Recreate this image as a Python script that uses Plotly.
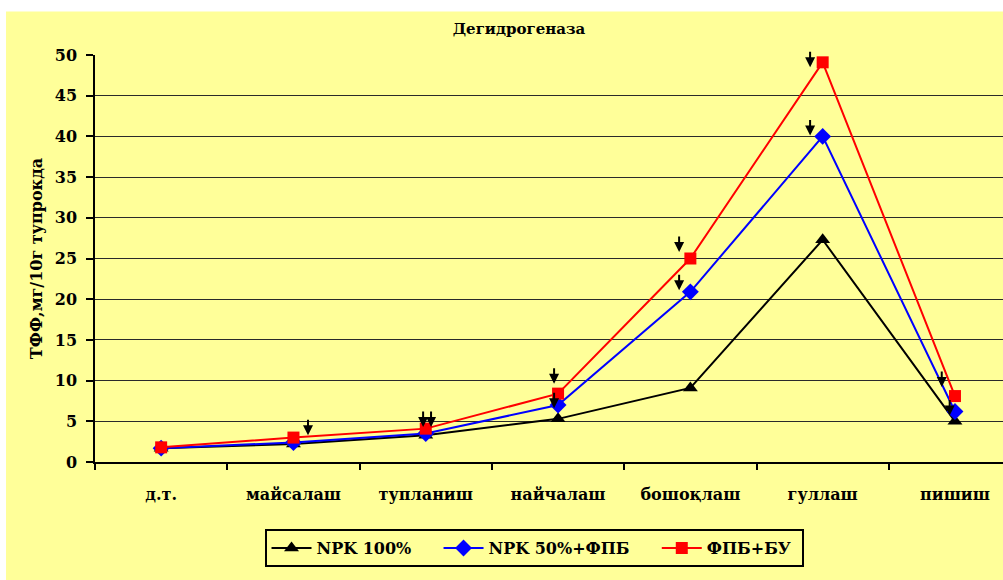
import plotly.graph_objects as go

categories = ["д.т.", "майсалаш", "тупланиш", "найчалаш", "бошоқлаш", "гуллаш", "пишиш"]
npk100 = [1.7, 2.2, 3.3, 5.3, 9.1, 27.3, 5.0]
npk50_fpb = [1.7, 2.4, 3.5, 7.0, 20.9, 40.0, 6.2]
fpb_bu = [1.8, 3.0, 4.1, 8.4, 25.0, 49.1, 8.1]
series_names = ["NPK 100%", "NPK 50%+ФПБ", "ФПБ+БУ"]

# arrows: category index, arrow tip value, small horizontal offset (category units)
arrow_cat = [1, 2, 2, 3, 3, 4, 4, 5, 5, 6, 6]
arrow_tip = [3.3, 4.3, 4.3, 9.6, 6.6, 25.8, 21.1, 48.5, 40.1, 9.2, 5.7]
arrow_dx = [0.11, -0.02, 0.04, -0.03, -0.03, -0.085, -0.085, -0.095, -0.095, -0.10, -0.04]

y_ticks = list(range(0, 51, 5))

FONT = "DejaVu Serif"
YEL = "#FFFF99"
PAD = "\u00a0" * 4

fig = go.Figure()
styles = [
    (npk100, "black", "triangle-up", 13),
    (npk50_fpb, "#0000FF", "diamond", 13),
    (fpb_bu, "#FF0000", "square", 12),
]
for i, (name, (vals, col, sym, sz)) in enumerate(zip(series_names, styles)):
    fig.add_trace(go.Scatter(
        x=categories, y=vals, name=name + (PAD if i < 2 else "\u00a0"),
        mode="lines+markers",
        line=dict(color=col, width=2),
        marker=dict(symbol=sym, size=sz, color=col),
    ))

for c, t, dx in zip(arrow_cat, arrow_tip, arrow_dx):
    fig.add_annotation(x=c + dx, y=t, xref="x", yref="y", text="",
                       showarrow=True, ax=0, ay=-17, arrowhead=2,
                       arrowsize=1, arrowwidth=2, arrowcolor="black")

# yellow chart area (page strip above and left stays white)
fig.add_shape(type="rect", xref="paper", yref="paper", layer="below",
              x0=-0.098, x1=1.01, y0=-0.3, y1=1.107,
              fillcolor=YEL, line=dict(width=0))

fig.update_layout(
    width=1003, height=580,
    margin=dict(l=95, r=0, t=55, b=118),
    paper_bgcolor="white", plot_bgcolor=YEL,
    font=dict(family=FONT, color="black", size=16),
    title=dict(text="<b>Дегидрогеназа</b>", x=519/1003, xref="container",
               xanchor="center",
               y=1.0 - 29/580, yanchor="middle",
               font=dict(family=FONT, size=15, color="black")),
    showlegend=True,
    legend=dict(orientation="h", x=0.4835, xanchor="center",
                y=-0.165, yanchor="top",
                bgcolor=YEL, bordercolor="black", borderwidth=2,
                font=dict(family=FONT, size=16, color="black", weight="bold"),
                itemwidth=40, tracegroupgap=0),
)
fig.update_xaxes(
    type="category", categoryorder="array", categoryarray=categories,
    range=[-0.5, 6.363], showgrid=False, zeroline=False,
    showline=True, linecolor="black", linewidth=1.5,
    ticks="outside", tickson="boundaries", ticklen=6, tickcolor="black", tickwidth=1.5,
    tickfont=dict(family=FONT, size=16, color="black", weight="bold"),
    ticklabelstandoff=17,
)
fig.update_yaxes(
    range=[0, 50], tickvals=y_ticks, ticktext=[str(v) for v in y_ticks],
    showgrid=True, gridcolor="#2a2a2a", gridwidth=1.2, zeroline=False,
    showline=True, linecolor="black", linewidth=1.5,
    ticks="outside", ticklen=7, tickcolor="black", tickwidth=1.5,
    tickfont=dict(family=FONT, size=16, color="black", weight="bold"),
    ticklabelstandoff=6,
    title=dict(text="<b>ТФФ,мг/10г тупрокда</b>", standoff=8,
               font=dict(family=FONT, size=16, color="black")),
)

fig.write_html("out.html")
